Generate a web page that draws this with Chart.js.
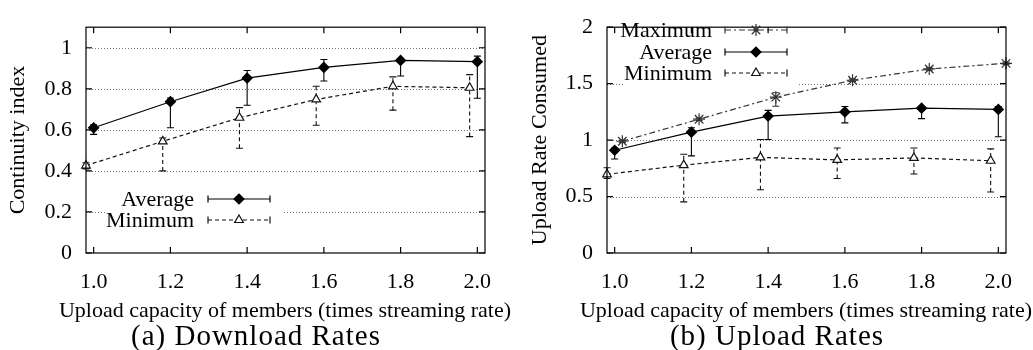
<!DOCTYPE html>
<html>
<head>
<meta charset="utf-8">
<script src="https://cdn.jsdelivr.net/npm/chart.js@4.4.1/dist/chart.umd.min.js"></script>
<style>
body { margin: 0; background: #fff; width: 1033px; height: 350px; position: relative; overflow: hidden; font-family: "Liberation Serif", serif; }
.plot { position: absolute; top: 0; height: 350px; }
.xtitle { position: absolute; top: 297px; font-size: 22px; line-height: 26px; color: #000; white-space: nowrap; transform: translateX(-50%); }
.caption { position: absolute; top: 319px; font-size: 29px; letter-spacing: 1px; color: #000; white-space: nowrap; transform: translateX(-50%); }
</style>
</head>
<body>
<div class="plot" style="left:0;width:516px"><canvas id="downChart"></canvas></div>
<div class="plot" style="left:516px;width:517px"><canvas id="upChart"></canvas></div>
<div class="xtitle" style="left:285px">Upload capacity of members (times streaming rate)</div>
<div class="xtitle" style="left:806px">Upload capacity of members (times streaming rate)</div>
<div class="caption" style="left:256px">(a) Download Rates</div>
<div class="caption" style="left:777px">(b) Upload Rates</div>
<script>
// posiciones en x (los minimos y maximos estan desplazados en el original)
const xValues = [1.0, 1.2, 1.4, 1.6, 1.8, 2.0];
const xLeft = [0.98, 1.18, 1.38, 1.58, 1.78, 1.98];
const xRight = [1.02, 1.22, 1.42, 1.62, 1.82, 2.02];
const xTicks = [1.0, 1.2, 1.4, 1.6, 1.8, 2.0];

// (a) Download Rates
const downTicks = [0, 0.2, 0.4, 0.6, 0.8, 1];
const downAvg = [0.61, 0.737, 0.852, 0.904, 0.938, 0.932];
const downAvgLow = [0.578, 0.61, 0.72, 0.838, 0.862, 0.754];
const downAvgHigh = [0.625, 0.755, 0.889, 0.943, 0.945, 0.959];
const downMin = [0.426, 0.544, 0.659, 0.748, 0.812, 0.805];
const downMinLow = [0.41, 0.40, 0.51, 0.622, 0.696, 0.567];
const downMinHigh = [0.44, 0.56, 0.708, 0.812, 0.858, 0.869];

// (b) Upload Rates
const upTicks = [0, 0.5, 1, 1.5, 2];
const upMax = [0.99, 1.185, 1.38, 1.53, 1.63, 1.68];
const upMaxLow = [0.98, 1.175, 1.30, 1.52, 1.62, 1.67];
const upMaxHigh = [1.0, 1.195, 1.42, 1.54, 1.64, 1.69];
const upAvg = [0.91, 1.07, 1.213, 1.25, 1.283, 1.272];
const upAvgLow = [0.833, 0.86, 1.005, 1.153, 1.19, 1.03];
const upAvgHigh = [0.93, 1.11, 1.263, 1.297, 1.295, 1.297];
const upMin = [0.697, 0.778, 0.847, 0.825, 0.842, 0.817];
const upMinLow = [0.66, 0.453, 0.56, 0.66, 0.70, 0.54];
const upMinHigh = [0.755, 0.875, 1.005, 0.93, 0.93, 0.922];

const fontFamily = '"Liberation Serif", "Times New Roman", serif';
const textFont = { family: fontFamily, size: 22 };

const styles = {
    Average: { color: '#000', dash: [], pointStyle: 'rectRot', radius: 5, fill: '#000' },
    Minimum: { color: '#111', dash: [4, 3], pointStyle: 'triangle', radius: 5, fill: '#fff' },
    Maximum: { color: '#333', dash: [6, 3, 2, 3], pointStyle: 'star', radius: 6, fill: '#333' }
};

function series(label, xs, ys, lows, highs) {
    const st = styles[label];
    return {
        label: label,
        data: xs.map((x, i) => ({ x: x, y: ys[i] })),
        errLow: lows,
        errHigh: highs,
        xs: xs,
        borderColor: st.color,
        borderWidth: 1.2,
        borderDash: st.dash,
        pointStyle: st.pointStyle,
        pointRadius: st.radius,
        pointHoverRadius: st.radius,
        pointBackgroundColor: st.fill,
        pointBorderColor: st.color,
        pointBorderWidth: 1.2,
        tension: 0,
        clip: false
    };
}

// marco, rejilla punteada, barras de error y leyenda al estilo gnuplot
const paperPlugin = {
    id: 'paper',
    beforeDatasetsDraw(chart) {
        const ctx = chart.ctx;
        const a = chart.chartArea;
        const ys = chart.scales.y;
        const o = chart.options.plugins.paper;
        ctx.save();
        ctx.strokeStyle = '#777';
        ctx.lineWidth = 1;
        ctx.setLineDash([1, 2]);
        o.yTicks.forEach(v => {
            const py = Math.round(ys.getPixelForValue(v)) + 0.5;
            if (py <= a.top + 1 || py >= a.bottom - 1) return;
            ctx.beginPath();
            ctx.moveTo(a.left, py);
            ctx.lineTo(a.right, py);
            ctx.stroke();
        });
        ctx.setLineDash([]);
        // caja blanca de la leyenda
        ctx.fillStyle = '#fff';
        ctx.fillRect(o.box[0], o.box[1], o.box[2], o.box[3]);
        // barras de error
        chart.data.datasets.forEach(ds => {
            ctx.strokeStyle = ds.borderColor;
            ctx.lineWidth = 1.1;
            ds.xs.forEach((x, i) => {
                const px = chart.scales.x.getPixelForValue(x);
                const lo = ys.getPixelForValue(ds.errLow[i]);
                const hi = ys.getPixelForValue(ds.errHigh[i]);
                ctx.setLineDash(ds.borderDash);
                ctx.beginPath();
                ctx.moveTo(px, lo);
                ctx.lineTo(px, hi);
                ctx.stroke();
                ctx.setLineDash([]);
                ctx.beginPath();
                ctx.moveTo(px - 3.5, lo);
                ctx.lineTo(px + 3.5, lo);
                ctx.moveTo(px - 3.5, hi);
                ctx.lineTo(px + 3.5, hi);
                ctx.stroke();
            });
        });
        ctx.restore();
    },
    afterDatasetsDraw(chart) {
        const ctx = chart.ctx;
        const a = chart.chartArea;
        const o = chart.options.plugins.paper;
        ctx.save();
        ctx.strokeStyle = '#000';
        ctx.lineWidth = 1.2;
        ctx.strokeRect(a.left, a.top, a.right - a.left, a.bottom - a.top);
        // ticks hacia dentro
        ctx.beginPath();
        xTicks.forEach(v => {
            const px = chart.scales.x.getPixelForValue(v);
            ctx.moveTo(px, a.bottom); ctx.lineTo(px, a.bottom - 6);
            ctx.moveTo(px, a.top); ctx.lineTo(px, a.top + 6);
        });
        o.yTicks.forEach(v => {
            const py = chart.scales.y.getPixelForValue(v);
            ctx.moveTo(a.left, py); ctx.lineTo(a.left + 6, py);
            ctx.moveTo(a.right, py); ctx.lineTo(a.right - 6, py);
        });
        ctx.stroke();
        // leyenda
        ctx.font = '22px ' + fontFamily;
        ctx.textAlign = 'right';
        ctx.textBaseline = 'middle';
        o.legend.forEach((label, i) => {
            const st = styles[label];
            const y = o.legendY[i];
            ctx.fillStyle = '#000';
            ctx.fillText(label, o.legendX[0], y + 1);
            ctx.strokeStyle = st.color;
            ctx.lineWidth = 1.2;
            ctx.setLineDash(st.dash);
            ctx.beginPath();
            ctx.moveTo(o.legendX[1], y);
            ctx.lineTo(o.legendX[2], y);
            ctx.stroke();
            ctx.setLineDash([]);
            ctx.beginPath();
            ctx.moveTo(o.legendX[1], y - 3.5); ctx.lineTo(o.legendX[1], y + 3.5);
            ctx.moveTo(o.legendX[2], y - 3.5); ctx.lineTo(o.legendX[2], y + 3.5);
            ctx.stroke();
            ctx.fillStyle = st.fill;
            ctx.strokeStyle = st.color;
            ctx.lineWidth = 1.2;
            Chart.helpers.drawPoint(ctx, { pointStyle: st.pointStyle, radius: st.radius, rotation: 0, borderWidth: 1.2 },
                (o.legendX[1] + o.legendX[2]) / 2, y);
        });
        ctx.restore();
    }
};

function makeChart(id, datasets, p) {
    return new Chart(document.getElementById(id), {
        type: 'line',
        data: { datasets: datasets },
        plugins: [paperPlugin],
        options: {
            responsive: true,
            maintainAspectRatio: false,
            animation: false,
            events: [],
            layout: { padding: { left: 0, top: 13, right: p.padRight, bottom: 0 } },
            plugins: {
                legend: { display: false },
                tooltip: { enabled: false },
                paper: p
            },
            scales: {
                x: {
                    type: 'linear',
                    min: 0.98,
                    max: 2.02,
                    afterBuildTicks: s => { s.ticks = xTicks.map(v => ({ value: v })); },
                    afterFit: s => { s.height = 97; },
                    grid: { display: false, drawTicks: false },
                    border: { display: false },
                    ticks: { callback: v => v.toFixed(1), font: textFont, color: '#000', padding: 16, maxRotation: 0, autoSkip: false }
                },
                y: {
                    min: 0,
                    max: p.yMax,
                    afterBuildTicks: s => { s.ticks = p.yTicks.map(v => ({ value: v })); },
                    afterFit: s => { s.width = p.axisWidth; },
                    grid: { display: false, drawTicks: false },
                    border: { display: false },
                    ticks: { callback: v => String(v), font: textFont, color: '#000', padding: 14, autoSkip: false },
                    title: { display: true, text: p.yTitle, font: textFont, color: '#000', padding: { top: p.titlePad, bottom: 0 } }
                }
            }
        }
    });
}

makeChart('downChart', [
    series('Average', xValues, downAvg, downAvgLow, downAvgHigh),
    series('Minimum', xLeft, downMin, downMinLow, downMinHigh)
], {
    yMax: 1.1, yTicks: downTicks, yTitle: 'Continuity index', axisWidth: 86, padRight: 31, titlePad: 5,
    box: [107, 185, 176, 47],
    legend: ['Average', 'Minimum'], legendY: [199, 220], legendX: [194, 208, 270]
});

makeChart('upChart', [
    series('Maximum', xRight, upMax, upMaxLow, upMaxHigh),
    series('Average', xValues, upAvg, upAvgLow, upAvgHigh),
    series('Minimum', xLeft, upMin, upMinLow, upMinHigh)
], {
    yMax: 2, yTicks: upTicks, yTitle: 'Upload Rate Consumed', axisWidth: 91, padRight: 27, titlePad: 11,
    box: [107, 15, 176, 70],
    legend: ['Maximum', 'Average', 'Minimum'], legendY: [30, 52, 73], legendX: [196, 209, 271]
});
</script>
</body>
</html>
